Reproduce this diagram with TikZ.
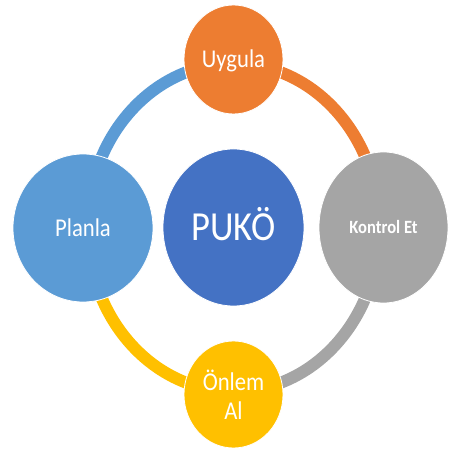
\documentclass[tikz,border=0pt]{standalone}
\usepackage{fontspec}
\setmainfont{Carlito}[FakeStretch=0.885]
\usetikzlibrary{shapes.geometric}
\definecolor{cOrange}{HTML}{ED7D31}
\definecolor{cLight}{HTML}{5B9BD5}
\definecolor{cDark}{HTML}{4472C4}
\definecolor{cGray}{HTML}{A5A5A5}
\definecolor{cGold}{HTML}{FFC000}
\begin{document}
\begin{tikzpicture}[x=1pt,y=1pt,
  bub/.style={ellipse, fill=#1, draw=white, line width=0.8pt, inner sep=0pt, text=white, align=center},
  ringarc/.style={draw=#1, line width=12pt},
  lbl/.style={font=\fontsize{25.6}{29}\selectfont, text height=16.5pt, text depth=0pt}]
\useasboundingbox (0,0) rectangle (448,450);
\clip (0,0) rectangle (448,450);
\coordinate (rc) at (233.5,222.5);
\draw[ringarc=cLight] (rc) ++(180:146 and 164) arc[start angle=180, end angle=90, x radius=146, y radius=164];
\draw[ringarc=cOrange] (rc) ++(90:146 and 164) arc[start angle=90, end angle=0, x radius=146, y radius=164];
\draw[ringarc=cGray] (rc) ++(0:146 and 164) arc[start angle=0, end angle=-90, x radius=146, y radius=164];
\draw[ringarc=cGold] (rc) ++(-90:146 and 164) arc[start angle=-90, end angle=-180, x radius=146, y radius=164];
\node[bub=cDark, minimum width=141pt, minimum height=157pt, font=\fontsize{41.3}{45}\selectfont, text height=26.6pt, text depth=0pt] (puko) at (rc) {PUKÖ};
\node[bub=cOrange, minimum width=99pt, minimum height=109pt, lbl] (uyg) at (233.5,390.5) {Uygula};
\node[bub=cLight, minimum width=140pt, minimum height=148pt, lbl] (plan) at (83,222) {Planla};
\node[bub=cGray, minimum width=129pt, minimum height=151pt, font=\fontsize{18.7}{22}\selectfont\bfseries, text height=12pt, text depth=0pt] (kon) at (383.5,222.5) {Kontrol Et};
\node[bub=cGold, minimum width=99pt, minimum height=107pt, font=\fontsize{25.6}{29}\selectfont] (onl) at (233.5,55.5) {Önlem\\Al};
\end{tikzpicture}
\end{document}
